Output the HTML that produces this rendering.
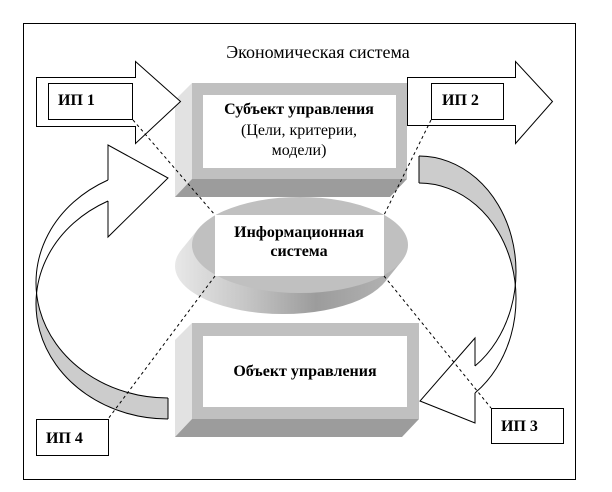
<!DOCTYPE html>
<html><head><meta charset="utf-8"><style>
html,body{margin:0;padding:0;background:#fff}
svg{display:block}
text{font-family:"Liberation Serif","Times New Roman",serif;}
</style></head>
<body>
<svg width="612" height="492" viewBox="0 0 612 492" xmlns="http://www.w3.org/2000/svg">
<defs>
<linearGradient id="side" gradientUnits="userSpaceOnUse" x1="175" y1="0" x2="410" y2="0">
<stop offset="0" stop-color="#e8e8e8"/>
<stop offset="0.3" stop-color="#c6c6c6"/>
<stop offset="0.6" stop-color="#9c9c9c"/>
<stop offset="1" stop-color="#b8b8b8"/>
</linearGradient>
</defs>
<rect x="0" y="0" width="612" height="492" fill="#fff"/>
<rect x="23.5" y="23.5" width="552" height="456" fill="none" stroke="#000"/>
<text x="318" y="58" font-size="18" text-anchor="middle">Экономическая система</text>

<!-- Information system ellipse -->
<ellipse cx="283" cy="266" rx="108" ry="48" fill="url(#side)"/>
<polygon points="401.6,261.3 198.4,228.7 181.4,249.7 384.6,282.3" fill="url(#side)"/>
<ellipse cx="300" cy="245" rx="108" ry="48" fill="#c0c0c0"/>
<rect x="215" y="215" width="169" height="61" fill="#fff"/>
<text x="299" y="237" font-size="16" font-weight="bold" text-anchor="middle">Информационная</text>
<text x="299" y="256" font-size="16" font-weight="bold" text-anchor="middle">система</text>

<!-- Subject box -->
<polygon points="175,100 192,83 192,179 175,197" fill="#e2e2e2"/>
<polygon points="192,179 407,179 390,197 175,197" fill="#9c9c9c"/>
<rect x="192" y="83" width="215" height="96" fill="#c0c0c0"/>
<rect x="203" y="95" width="193" height="73" fill="#fff"/>
<text x="299" y="114" font-size="16" font-weight="bold" text-anchor="middle">Субъект управления</text>
<text x="299" y="135" font-size="16" text-anchor="middle">(Цели, критерии,</text>
<text x="299" y="155" font-size="16" text-anchor="middle">модели)</text>

<!-- Object box -->
<polygon points="175,340 192,323 192,419 175,437" fill="#e2e2e2"/>
<polygon points="192,419 419,419 402,437 175,437" fill="#9c9c9c"/>
<rect x="192" y="323" width="227" height="96" fill="#c0c0c0"/>
<rect x="203" y="336" width="204" height="71" fill="#fff"/>
<text x="305" y="376" font-size="16" font-weight="bold" text-anchor="middle">Объект управления</text>

<!-- ИП1 arrow -->
<polygon points="36.5,77.5 135.5,77.5 135.5,61.5 180.5,101.5 135.5,143.5 135.5,126.5 36.5,126.5" fill="#fff" stroke="#000"/>
<rect x="48.5" y="83.5" width="84" height="36" fill="#fff" stroke="#000"/>
<text x="58" y="105" font-size="16" font-weight="bold">ИП 1</text>

<!-- ИП2 arrow -->
<polygon points="407.5,77.5 515.5,77.5 515.5,61.5 552.5,101.5 515.5,143.5 515.5,125.5 407.5,125.5" fill="#fff" stroke="#000"/>
<rect x="431.5" y="83.5" width="72" height="36" fill="#fff" stroke="#000"/>
<text x="442" y="105" font-size="16" font-weight="bold">ИП 2</text>

<!-- Left curved arrow -->
<path d="M168,398 A132,115.3 0 0 1 36.55,293.2 A132,115.3 0 0 0 168,419 Z" fill="#cccccc"/>
<g fill="none" stroke="#000" stroke-width="1">
<path d="M108,180 A132,115.3 0 0 0 168,398"/>
<path d="M108,201 A132,115.3 0 0 0 168,419"/>
<path d="M168,398 L168,419"/>
<path d="M108,180 L108,145 L168,178 L108,237 L108,201"/>
</g>

<!-- Right curved arrow -->
<path d="M419,156 A97,115.6 0 0 1 515.3,285.1 A97,115.6 0 0 0 419,183 Z" fill="#cccccc"/>
<g fill="none" stroke="#000" stroke-width="1">
<path d="M419,156 A97,115.6 0 0 1 475,366"/>
<path d="M419,183 A97,115.6 0 0 1 475,393"/>
<path d="M419,156 L419,183"/>
<path d="M475,366 L475,338 L420,401 L475,423 L475,393"/>
</g>

<!-- ИП3 / ИП4 boxes -->
<rect x="491.5" y="408.5" width="72" height="35" fill="#fff" stroke="#000"/>
<text x="501" y="431" font-size="16" font-weight="bold">ИП 3</text>
<rect x="36.5" y="419.5" width="72" height="36" fill="#fff" stroke="#000"/>
<text x="46" y="443" font-size="16" font-weight="bold">ИП 4</text>

<!-- Dashed connectors -->
<g stroke="#000" stroke-width="1" stroke-dasharray="3 3" fill="none">
<line x1="133" y1="120" x2="215" y2="215"/>
<line x1="431" y1="120" x2="384" y2="215"/>
<line x1="215" y1="276" x2="108" y2="419"/>
<line x1="384" y1="276" x2="491" y2="408"/>
</g>
</svg>
</body></html>
